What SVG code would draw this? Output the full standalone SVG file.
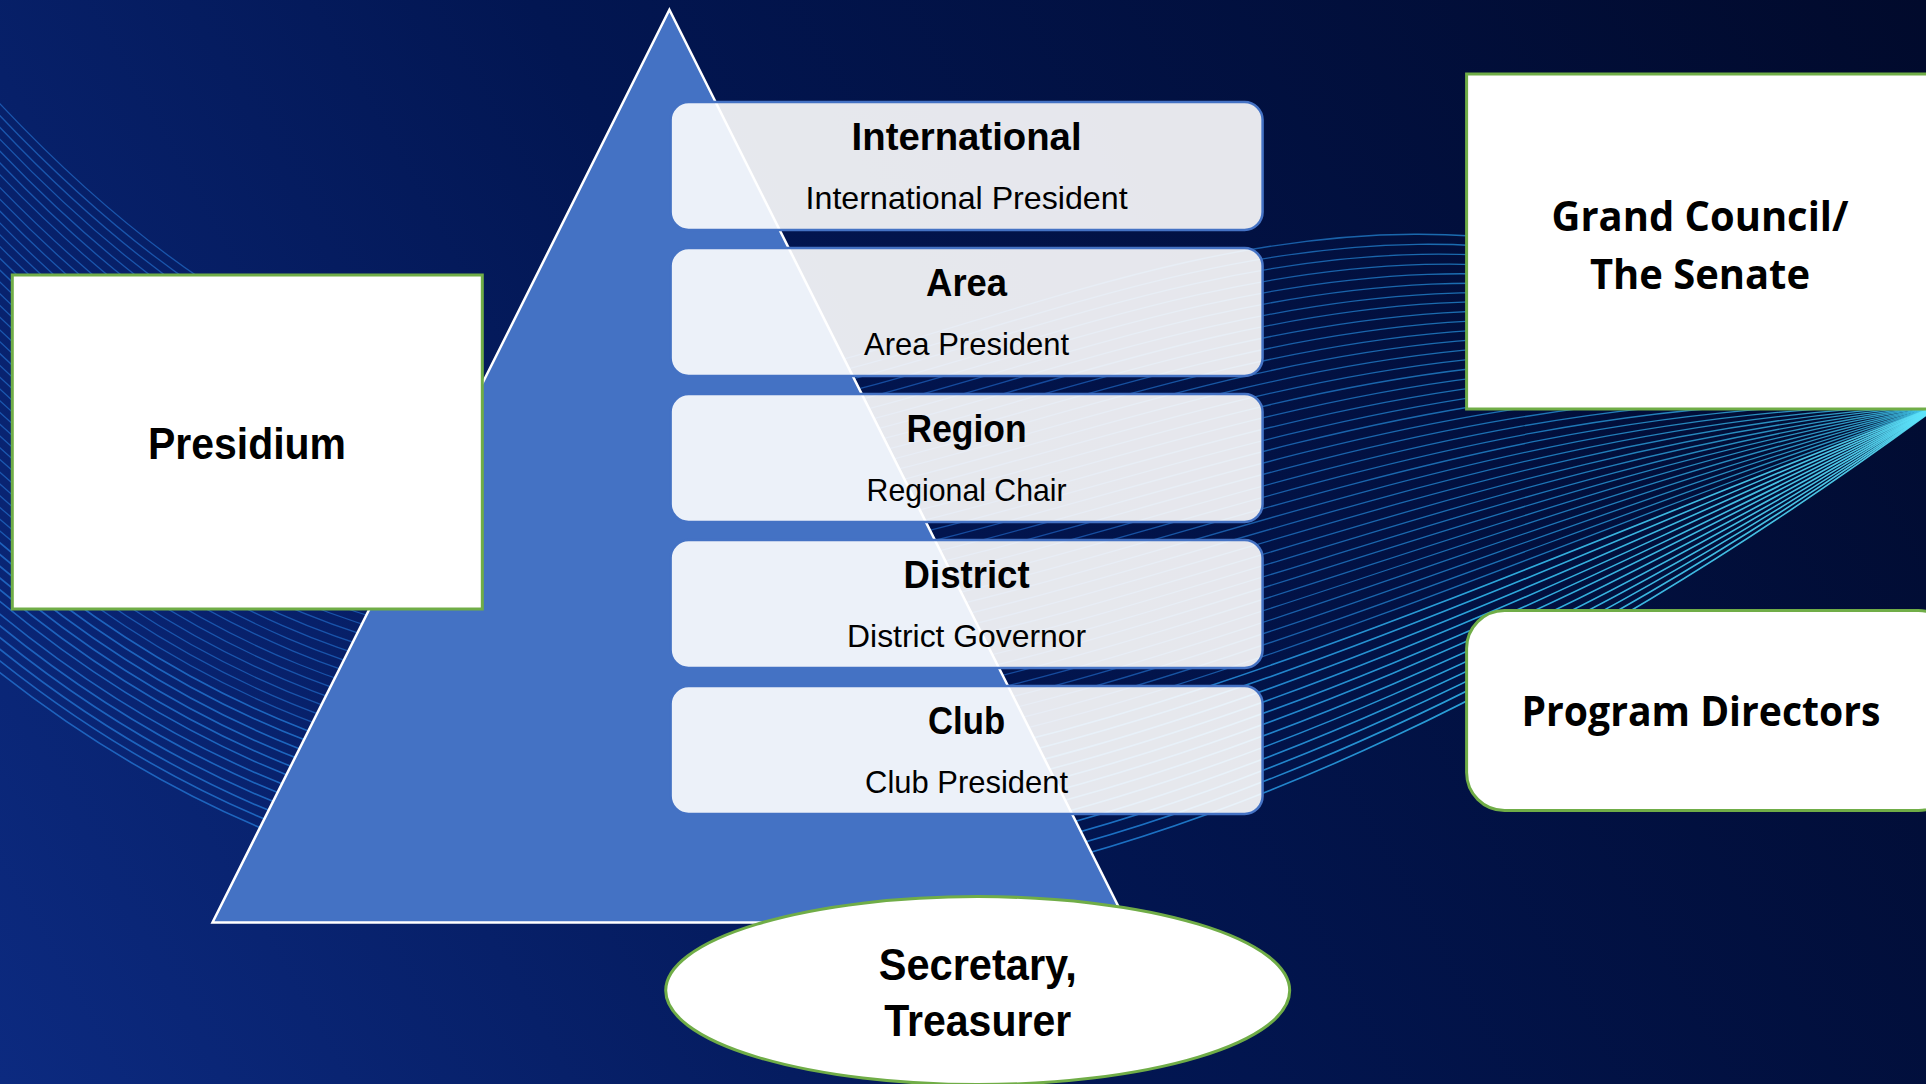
<svg xmlns="http://www.w3.org/2000/svg" width="1926" height="1084" viewBox="0 0 1926 1084">
<defs>
<linearGradient id="bg" x1="0" y1="1084" x2="1926" y2="0" gradientUnits="userSpaceOnUse">
<stop offset="0" stop-color="#0c2a80"/>
<stop offset="0.45" stop-color="#021652"/>
<stop offset="1" stop-color="#010a2c"/>
</linearGradient>
<linearGradient id="wave" x1="0" y1="0" x2="1926" y2="0" gradientUnits="userSpaceOnUse">
<stop offset="0" stop-color="#2068c4"/>
<stop offset="0.55" stop-color="#1b5cb8"/>
<stop offset="0.8" stop-color="#2596dd"/>
<stop offset="1" stop-color="#46d6f7"/>
</linearGradient>
<linearGradient id="wave2" x1="0" y1="0" x2="1926" y2="0" gradientUnits="userSpaceOnUse">
<stop offset="0" stop-color="#2068c4"/>
<stop offset="0.6" stop-color="#1e7bd0"/>
<stop offset="0.78" stop-color="#31b8ec"/>
<stop offset="1" stop-color="#5de4fb"/>
</linearGradient>
<style>
.w{fill:none;stroke:url(#wave);stroke-width:1.3;opacity:0.75}
.c{fill:none;stroke:url(#wave2);stroke-width:1.6;opacity:0.9}
.lvl{fill:#ffffff;fill-opacity:0.9;stroke:#4472c4;stroke-width:2.5}
.gbox{fill:#ffffff;stroke:#70ad47;stroke-width:3}
.t{font-family:"Liberation Sans",Arial,sans-serif;font-weight:bold;fill:#000;text-anchor:middle}
.s{font-family:"Liberation Sans",Arial,sans-serif;fill:#000;text-anchor:middle}
.o{font-family:"Open Sans","Liberation Sans",sans-serif;font-weight:bold;fill:#000;text-anchor:middle}
</style>
</defs>
<rect x="0" y="0" width="1926" height="1084" fill="url(#bg)"/>
<g id="waves">
<path class="w" d="M-40,60 C700,900 1100,-150 1940,405"/>
<path class="w" d="M-40,72 C696,904 1102,-127 1940,405"/>
<path class="w" d="M-40,84 C692,908 1104,-104 1940,405"/>
<path class="w" d="M-40,96 C688,913 1106,-81 1940,405"/>
<path class="w" d="M-40,108 C683,917 1108,-58 1940,405"/>
<path class="w" d="M-40,120 C679,921 1110,-35 1940,405"/>
<path class="w" d="M-40,132 C675,925 1112,-12 1940,405"/>
<path class="w" d="M-40,145 C671,929 1115,10 1940,405"/>
<path class="w" d="M-40,157 C667,933 1117,33 1940,405"/>
<path class="w" d="M-40,169 C663,938 1119,56 1940,405"/>
<path class="w" d="M-40,181 C658,942 1121,79 1940,405"/>
<path class="w" d="M-40,193 C654,946 1123,102 1940,405"/>
<path class="w" d="M-40,205 C650,950 1125,125 1940,405"/>
<path class="w" d="M-40,217 C646,954 1127,148 1940,405"/>
<path class="w" d="M-40,229 C642,958 1129,171 1940,405"/>
<path class="w" d="M-40,241 C638,963 1131,194 1940,405"/>
<path class="w" d="M-40,253 C633,967 1133,217 1940,405"/>
<path class="w" d="M-40,265 C629,971 1135,240 1940,405"/>
<path class="w" d="M-40,277 C625,975 1137,262 1940,405"/>
<path class="w" d="M-40,290 C621,979 1140,285 1940,405"/>
<path class="w" d="M-40,302 C617,983 1142,308 1940,405"/>
<path class="w" d="M-40,314 C613,988 1144,331 1940,405"/>
<path class="w" d="M-40,326 C608,992 1146,354 1940,405"/>
<path class="w" d="M-40,338 C604,996 1148,377 1940,405"/>
<path class="w" d="M-40,350 C600,1000 1150,400 1940,405"/>
<path class="w" d="M-40,362 C596,1004 1152,423 1940,405"/>
<path class="w" d="M-40,374 C592,1008 1154,446 1940,405"/>
<path class="w" d="M-40,386 C588,1013 1156,469 1940,405"/>
<path class="w" d="M-40,398 C583,1017 1158,492 1940,405"/>
<path class="w" d="M-40,410 C579,1021 1160,515 1940,405"/>
<path class="w" d="M-40,422 C575,1025 1162,537 1940,405"/>
<path class="w" d="M-40,435 C571,1029 1165,560 1940,405"/>
<path class="w" d="M-40,447 C567,1033 1167,583 1940,405"/>
<path class="w" d="M-40,459 C563,1038 1169,606 1940,405"/>
<path class="w" d="M-40,471 C558,1042 1171,629 1940,405"/>
<path class="w" d="M-40,483 C554,1046 1173,652 1940,405"/>
<path class="w" d="M-40,495 C550,1050 1175,675 1940,405"/>
<path class="c" d="M-40,507 C546,1054 1177,698 1940,405"/>
<path class="c" d="M-40,519 C542,1058 1179,721 1940,405"/>
<path class="c" d="M-40,531 C538,1063 1181,744 1940,405"/>
<path class="c" d="M-40,543 C533,1067 1183,767 1940,405"/>
<path class="c" d="M-40,555 C529,1071 1185,790 1940,405"/>
<path class="c" d="M-40,567 C525,1075 1187,812 1940,405"/>
<path class="c" d="M-40,580 C521,1079 1190,835 1940,405"/>
<path class="c" d="M-40,592 C517,1083 1192,858 1940,405"/>
<path class="c" d="M-40,604 C513,1088 1194,881 1940,405"/>
<path class="c" d="M-40,616 C508,1092 1196,904 1940,405"/>
<path class="c" d="M-40,628 C504,1096 1198,927 1940,405"/>
<path class="c" d="M-40,640 C500,1100 1200,950 1940,405"/>
</g>
<g id="pyramid">
<polygon points="669.4,9.8 212.5,922.5 1126.4,922.5" fill="#4472c4" stroke="#ffffff" stroke-width="2.5"/>
</g>
<g id="connectors"></g>
<g id="international">
<rect class="lvl" x="670.6" y="102" width="592" height="128" rx="18"/>
<text class="t" x="966.6" y="150" font-size="39" textLength="230" lengthAdjust="spacingAndGlyphs">International</text>
<text class="s" x="966.6" y="209" font-size="32" textLength="322" lengthAdjust="spacingAndGlyphs">International President</text>
</g>
<g id="area">
<rect class="lvl" x="670.6" y="248" width="592" height="128" rx="18"/>
<text class="t" x="966.6" y="296" font-size="39" textLength="81" lengthAdjust="spacingAndGlyphs">Area</text>
<text class="s" x="966.6" y="355" font-size="32" textLength="205" lengthAdjust="spacingAndGlyphs">Area President</text>
</g>
<g id="region">
<rect class="lvl" x="670.6" y="394" width="592" height="128" rx="18"/>
<text class="t" x="966.6" y="442" font-size="39" textLength="120" lengthAdjust="spacingAndGlyphs">Region</text>
<text class="s" x="966.6" y="501" font-size="32" textLength="200" lengthAdjust="spacingAndGlyphs">Regional Chair</text>
</g>
<g id="district">
<rect class="lvl" x="670.6" y="540" width="592" height="128" rx="18"/>
<text class="t" x="966.6" y="588" font-size="39" textLength="126" lengthAdjust="spacingAndGlyphs">District</text>
<text class="s" x="966.6" y="647" font-size="32" textLength="239" lengthAdjust="spacingAndGlyphs">District Governor</text>
</g>
<g id="club">
<rect class="lvl" x="670.6" y="686" width="592" height="128" rx="18"/>
<text class="t" x="966.6" y="734" font-size="39" textLength="77" lengthAdjust="spacingAndGlyphs">Club</text>
<text class="s" x="966.6" y="793" font-size="32" textLength="203" lengthAdjust="spacingAndGlyphs">Club President</text>
</g>
<g id="presidium">
<rect class="gbox" x="12.3" y="275" width="470" height="334"/>
<text class="t" x="247" y="459" font-size="45" textLength="198" lengthAdjust="spacingAndGlyphs">Presidium</text>
</g>
<g id="grand-council">
<rect class="gbox" x="1466.6" y="74" width="480" height="335"/>
<text class="o" x="1700" y="231" font-size="42" textLength="297" lengthAdjust="spacingAndGlyphs">Grand Council/</text>
<text class="o" x="1700" y="289" font-size="42" textLength="220" lengthAdjust="spacingAndGlyphs">The Senate</text>
</g>
<g id="program-directors">
<rect class="gbox" x="1466.6" y="610.5" width="490" height="200" rx="38"/>
<text class="o" x="1701" y="726" font-size="42" textLength="359" lengthAdjust="spacingAndGlyphs">Program Directors</text>
</g>
<g id="secretary-treasurer">
<ellipse class="gbox" cx="977.7" cy="990.6" rx="312" ry="94"/>
<text class="t" x="977.7" y="980" font-size="45" textLength="198" lengthAdjust="spacingAndGlyphs">Secretary,</text>
<text class="t" x="977.7" y="1035.5" font-size="45" textLength="187" lengthAdjust="spacingAndGlyphs">Treasurer</text>
</g>
</svg>
